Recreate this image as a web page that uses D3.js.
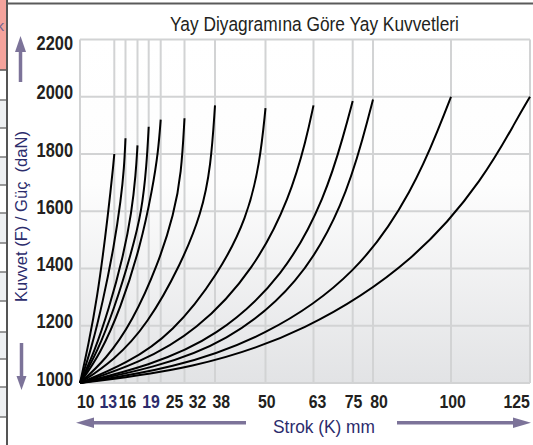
<!DOCTYPE html>
<html><head><meta charset="utf-8">
<script src="https://cdn.jsdelivr.net/npm/d3@7"></script>
<style>
html,body{margin:0;padding:0;background:#fff;}
svg{display:block;}
text{font-family:"Liberation Sans",Arial,Helvetica,sans-serif;}
</style></head>
<body>
<svg id="c" width="533" height="445"></svg>
<script>
// ---- data ----
const strokes   = [10, 13, 16, 19, 25, 32, 38, 50, 63, 75, 80, 100, 125];           // Strok (K) mm
const maxForce  = [1800,1855,1830,1895,1920,1925,1970,1960,1970,1985,1990,2000,2000]; // daN at full stroke
// force (daN) at 25%, 50%, 75%, 90% and 97% of its stroke
const force25 = [1136,1120,1108,1107,1101,1083,1078,1067,1068,1059,1052,1050,1048];
const force50 = [1296,1282,1257,1260,1258,1213,1204,1173,1180,1158,1140,1160,1175];
const force75 = [1520,1479,1440,1456,1478,1416,1417,1384,1400,1374,1345,1380,1430];
const force90 = [1680,1641,1598,1600,1681,1592,1592,1576,1650,1650,1625,1680,1720];
const force97 = [1760,1752,1730,1761,1810,1731,1757,1768,1854,1877,1871,1900,1920];
const startForce = 1000;
const yTicks    = [1000,1200,1400,1600,1800,2000,2200];
const xTickLabels = ["10","13","16","19","25","32","38","50","63","75","80","100","125"];
const highlightLabels = ["13","19"];
const title  = "Yay Diyagramına Göre Yay Kuvvetleri";
const yTitle = "Kuvvet (F) / Güç  (daN)";
const xTitle = "Strok (K) mm";

// ---- layout ----
const L = 80, R = 530, T = 39.5, B = 383;
const gridPx  = [80,114.3,125.5,137.5,148.7,160.7,184.5,215,265.5,313.5,352.7,373,451,530];
const labelPx = [85.7,108.3,127.5,151,174.5,197.5,221.3,266.8,317.5,353.5,379,452.7,516.7];
const navy = "#2c2c6c", ink = "#231f20", arrowCol = "#7c7399", gridCol = "#d2d3d4";

const svg = d3.select("#c");
const defs = svg.append("defs");
const g = defs.append("linearGradient").attr("id","bg").attr("x1",0).attr("y1",0).attr("x2",0).attr("y2",1);
g.append("stop").attr("offset",0).attr("stop-color","#ffffff");
g.append("stop").attr("offset",0.42).attr("stop-color","#fdfdfd");
g.append("stop").attr("offset",1).attr("stop-color","#e2e3e5");

const x = d3.scaleLinear().domain([0, ...strokes]).range(gridPx);
const xLab = d3.scaleLinear().domain(strokes.map((s,i)=>i)).range(labelPx);
const y = d3.scaleLinear().domain([1000,2200]).range([B, T]);

function place(sel, px, py, sx, rot){
  sel.attr("x",0).attr("y",0)
     .attr("transform",`translate(${px},${py})${rot?` rotate(${rot})`:""} scale(${sx},1)`);
}
function fitWidth(sel, px, py, target, rot){
  const w = sel.node().getComputedTextLength();
  place(sel, px, py, target/w, rot);
}

// left strip (neighbouring table edge)
svg.append("rect").attr("x",0).attr("y",0).attr("width",7).attr("height",70).attr("fill","#f4a39c");
svg.append("text").attr("x",-3.5).attr("y",31).attr("font-size",15).attr("fill","#6f6592").text("k");
const stripRows = [70,100,128,157,185,213,243,272,301,332,359,387,417];
stripRows.forEach((r,i)=>{
  if (i < stripRows.length-1 && i % 2 === 1) {
    svg.append("rect").attr("x",0).attr("y",r).attr("width",7).attr("height",stripRows[i+1]-r).attr("fill","#eef0f2");
  }
});
stripRows.forEach((r,i)=>{
  svg.append("line").attr("x1",0).attr("x2",7).attr("y1",r).attr("y2",r)
    .attr("stroke", i===0 ? "#555" : "#7a7a7a").attr("stroke-width",1.5);
});
svg.append("line").attr("x1",7).attr("x2",7).attr("y1",0).attr("y2",445).attr("stroke","#555").attr("stroke-width",2);
svg.append("line").attr("x1",7).attr("x2",533).attr("y1",3.5).attr("y2",3.5).attr("stroke","#5a5a5a").attr("stroke-width",2);

// plot background
svg.append("rect").attr("x",L).attr("y",T).attr("width",R-L).attr("height",B-T).attr("fill","url(#bg)");

// grid
svg.append("g").selectAll("line").data(yTicks).join("line")
  .attr("x1",L).attr("x2",R).attr("y1",d=>y(d)).attr("y2",d=>y(d))
  .attr("stroke",gridCol).attr("stroke-width",2);
svg.append("g").selectAll("line").data([0, ...strokes]).join("line")
  .attr("x1",d=>x(d)).attr("x2",d=>x(d)).attr("y1",T).attr("y2",B)
  .attr("stroke",gridCol).attr("stroke-width",2);

// curves
const curves = strokes.map((K,i)=>({K, pts:[
  [0,startForce],[K*0.25,force25[i]],[K*0.5,force50[i]],[K*0.75,force75[i]],
  [K*0.9,force90[i]],[K*0.97,force97[i]],[K,maxForce[i]]]}));
svg.append("g").selectAll("path").data(curves).join("path")
  .attr("fill","none").attr("stroke","#000").attr("stroke-width",2).attr("stroke-linecap","butt")
  .attr("d", c => {
    const lx = d3.scaleLinear().domain([0,c.K]).range([x(0), x(c.K)]);
    return d3.line().x(d=>lx(d[0])).y(d=>y(d[1])).curve(d3.curveBasis)(c.pts);
  });

// y tick labels
svg.append("g").selectAll("text").data(yTicks).join("text")
  .attr("text-anchor","end").attr("font-size",19.5).attr("font-weight","bold").attr("fill",ink)
  .text(d=>d)
  .each(function(d){ place(d3.select(this), 73, Math.max(y(d)+2.5, 50), 0.84); });

// x tick labels
svg.append("g").selectAll("text").data(xTickLabels).join("text")
  .attr("text-anchor","middle").attr("font-size",18).attr("font-weight","bold")
  .attr("fill",d=>highlightLabels.includes(d)?navy:ink)
  .text(d=>d)
  .each(function(d,i){ place(d3.select(this), xLab(i), 407.7, 0.88); });

// title
const tt = svg.append("text").attr("text-anchor","middle").attr("font-size",19.5).attr("fill",ink).text(title);
fitWidth(tt, 314.5, 30.5, 289);

// axis titles
const yt = svg.append("text").attr("text-anchor","middle").attr("font-size",17).attr("fill",navy)
  .style("white-space","pre").text(yTitle);
fitWidth(yt, 27, 216.5, 171, -90);
const xt = svg.append("text").attr("text-anchor","middle").attr("font-size",19).attr("fill",navy).text(xTitle);
fitWidth(xt, 324, 432.5, 102);

// arrows
function arrow(x1,y1,x2,y2,head,hw){
  const dx=x2-x1, dy=y2-y1, len=Math.hypot(dx,dy), ux=dx/len, uy=dy/len;
  const bx=x2-ux*head, by=y2-uy*head;
  svg.append("line").attr("x1",x1).attr("y1",y1).attr("x2",bx+ux*1).attr("y2",by+uy*1)
    .attr("stroke",arrowCol).attr("stroke-width",3.5);
  svg.append("path").attr("fill",arrowCol)
    .attr("d",`M${x2},${y2}L${bx-uy*hw},${by+ux*hw}L${bx+uy*hw},${by-ux*hw}Z`);
}
arrow(20.5,82,20.5,36,16,5.5);
arrow(21.5,343,21.5,390,14,5);
arrow(246,422.7,76,422.7,18,5.2);
arrow(397,422.7,531,422.7,18,5.2);
</script>
</body></html>
